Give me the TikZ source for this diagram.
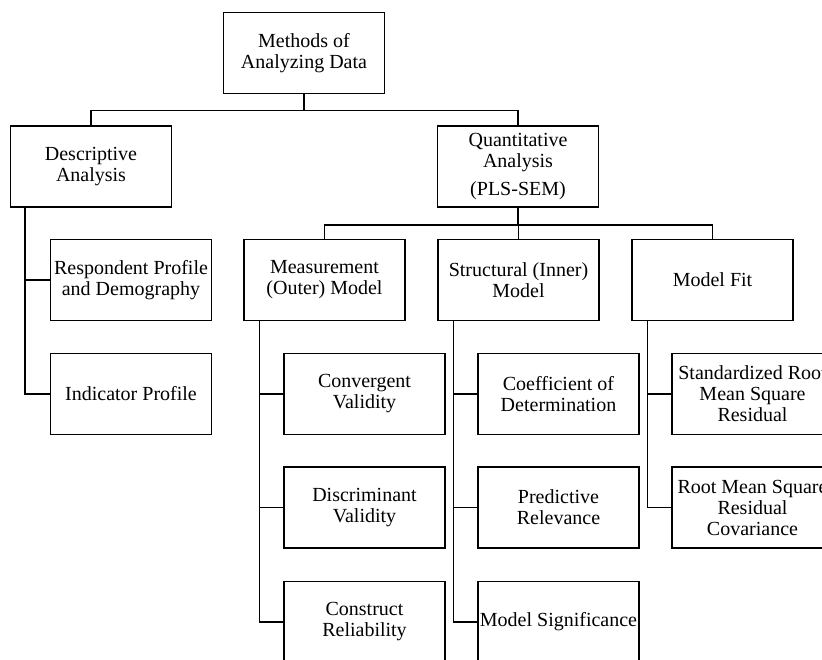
\documentclass[tikz,border=0pt]{standalone}
\usepackage{fontspec}
\setmainfont{Liberation Serif}
\usepackage{tikz}

\tikzset{
  box/.style={draw,line width=1.5pt,minimum width=161,minimum height=81,
    inner sep=1pt,align=center,font=\fontsize{20}{21}\selectfont},
  link/.style={line width=1.5pt}
}

\begin{document}
\begin{tikzpicture}[x=1pt,y=-1pt]
\useasboundingbox (0,0) rectangle (822,659);
\clip (0,0) rectangle (822,659);
% level 0 and 1
\node[box] (top) at (304,53) {Methods of\\Analyzing Data};
\node[box] (desc) at (91,166.5) {Descriptive\\Analysis};
\node[box] (quant) at (518,166.5) {Quantitative\\Analysis\\[7pt](PLS-SEM)};
% descriptive branch
\node[box] (resp) at (131,280) {Respondent Profile\\and Demography};
\node[box] (ind) at (131,394) {Indicator Profile};
% quantitative branch
\node[box] (meas) at (324.5,280) {Measurement\\(Outer) Model};
\node[box] (struc) at (518.5,280) {Structural (Inner)\\Model};
\node[box] (fit) at (712.5,280) {Model Fit};
\node[box] (conv) at (364.5,394) {Convergent\\Validity};
\node[box] (disc) at (364.5,507.5) {Discriminant\\Validity};
\node[box] (cons) at (364.5,622) {Construct\\Reliability};
\node[box] (coef) at (558.5,394) {Coefficient of\\Determination};
\node[box] (pred) at (558.5,507.5) {Predictive\\Relevance};
\node[box] (sig) at (558.5,622) {Model Significance};
\node[box] (srmr) at (752.5,394) {Standardized Root\\Mean Square\\Residual};
\node[box] (rms) at (752.5,507.5) {Root Mean Square\\Residual\\Covariance};
% connectors
\draw[link] (top.south) -- ++(0,16) -| (desc.north);
\draw[link] (top.south) -- ++(0,16) -| (quant.north);
\draw[link] (quant.south) -- ++(0,17) -| (meas.north);
\draw[link] (quant.south) -- ++(0,17) -| (struc.north);
\draw[link] (quant.south) -- ++(0,17) -| (fit.north);
\draw[link] ([xshift=15]desc.south west) |- (resp.west);
\draw[link] ([xshift=15]desc.south west) |- (ind.west);
\foreach \p/\c in {meas/conv,meas/disc,meas/cons,struc/coef,struc/pred,struc/sig,fit/srmr,fit/rms}
  \draw[link] ([xshift=16]\p.south west) |- (\c.west);
\end{tikzpicture}
\end{document}
